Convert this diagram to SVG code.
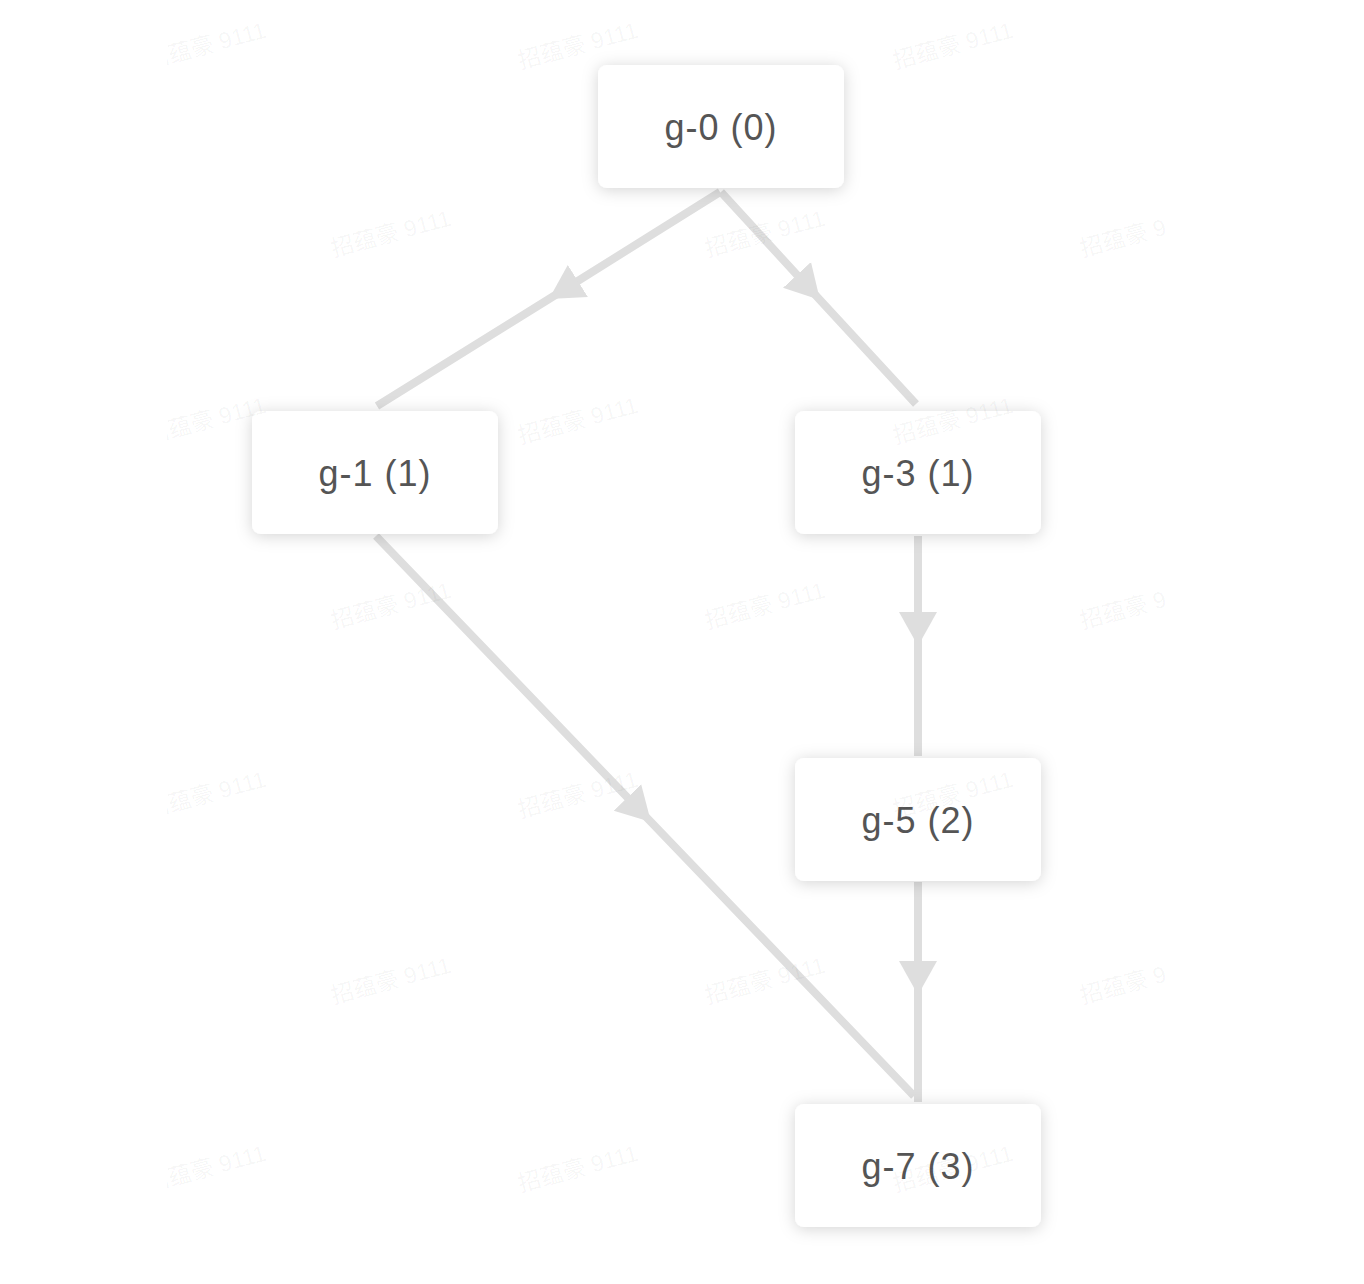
<svg xmlns="http://www.w3.org/2000/svg" width="1364" height="1284" viewBox="0 0 1364 1284">
<style>
.node rect{fill:#ffffff;filter:url(#sh)}
.node text{font-family:"Liberation Sans","Helvetica",Arial,sans-serif;font-size:36px;letter-spacing:1px;fill:#555555;text-anchor:middle;dominant-baseline:central}
.edge{fill:none;stroke:#dedede;stroke-width:8;marker-mid:url(#arr)}
.wm{font-family:"Liberation Sans","Noto Sans CJK SC",sans-serif;font-size:23px;fill:#000;fill-opacity:0.045;text-anchor:middle}
</style>
<defs>
<filter id="sh" x="-20%" y="-30%" width="140%" height="160%">
<feDropShadow dx="0" dy="2" stdDeviation="8" flood-color="#000" flood-opacity="0.17"/>
</filter>
<marker id="arr" markerUnits="userSpaceOnUse" markerWidth="42" markerHeight="42" viewBox="0 0 42 42" refX="34" refY="21" orient="auto">
<path d="M0,2 L34,21 L0,40 Z" fill="#dedede"/>
</marker>
<clipPath id="wmclip"><rect x="167" y="0" width="998" height="1284"/></clipPath>
</defs>
<rect width="1364" height="1284" fill="#ffffff"/>
<g id="edges">
<path class="edge" d="M720,192 L549,299 L377,406"/>
<path class="edge" d="M721,192 L820,300 L916,404"/>
<path class="edge" d="M918,536 L918,646 L918,756"/>
<path class="edge" d="M918,882 L918,995 L918,1102"/>
<path class="edge" d="M376,536 L651,822 L914,1096"/>
</g>
<g id="g-0" class="node"><rect x="598" y="65" width="246" height="123" rx="9"/><text x="721" y="127">g-0 (0)</text></g>
<g id="g-1" class="node"><rect x="252" y="411" width="246" height="123" rx="9"/><text x="375" y="473">g-1 (1)</text></g>
<g id="g-3" class="node"><rect x="795" y="411" width="246" height="123" rx="9"/><text x="918" y="473">g-3 (1)</text></g>
<g id="g-5" class="node"><rect x="795" y="758" width="246" height="123" rx="9"/><text x="918" y="820">g-5 (2)</text></g>
<g id="g-7" class="node"><rect x="795" y="1104" width="246" height="123" rx="9"/><text x="918" y="1166">g-7 (3)</text></g>
<g id="watermarks" clip-path="url(#wmclip)">
<text class="wm" transform="translate(208,53) rotate(-15)">招蕴豪 9111</text>
<text class="wm" transform="translate(580,53) rotate(-15)">招蕴豪 9111</text>
<text class="wm" transform="translate(955,53) rotate(-15)">招蕴豪 9111</text>
<text class="wm" transform="translate(393,241) rotate(-15)">招蕴豪 9111</text>
<text class="wm" transform="translate(767,241) rotate(-15)">招蕴豪 9111</text>
<text class="wm" transform="translate(1142,241) rotate(-15)">招蕴豪 9111</text>
<text class="wm" transform="translate(208,428) rotate(-15)">招蕴豪 9111</text>
<text class="wm" transform="translate(580,428) rotate(-15)">招蕴豪 9111</text>
<text class="wm" transform="translate(955,428) rotate(-15)">招蕴豪 9111</text>
<text class="wm" transform="translate(393,613) rotate(-15)">招蕴豪 9111</text>
<text class="wm" transform="translate(767,613) rotate(-15)">招蕴豪 9111</text>
<text class="wm" transform="translate(1142,613) rotate(-15)">招蕴豪 9111</text>
<text class="wm" transform="translate(208,802) rotate(-15)">招蕴豪 9111</text>
<text class="wm" transform="translate(580,802) rotate(-15)">招蕴豪 9111</text>
<text class="wm" transform="translate(955,802) rotate(-15)">招蕴豪 9111</text>
<text class="wm" transform="translate(393,988) rotate(-15)">招蕴豪 9111</text>
<text class="wm" transform="translate(767,988) rotate(-15)">招蕴豪 9111</text>
<text class="wm" transform="translate(1142,988) rotate(-15)">招蕴豪 9111</text>
<text class="wm" transform="translate(208,1176) rotate(-15)">招蕴豪 9111</text>
<text class="wm" transform="translate(580,1176) rotate(-15)">招蕴豪 9111</text>
<text class="wm" transform="translate(955,1176) rotate(-15)">招蕴豪 9111</text>
</g>
</svg>
